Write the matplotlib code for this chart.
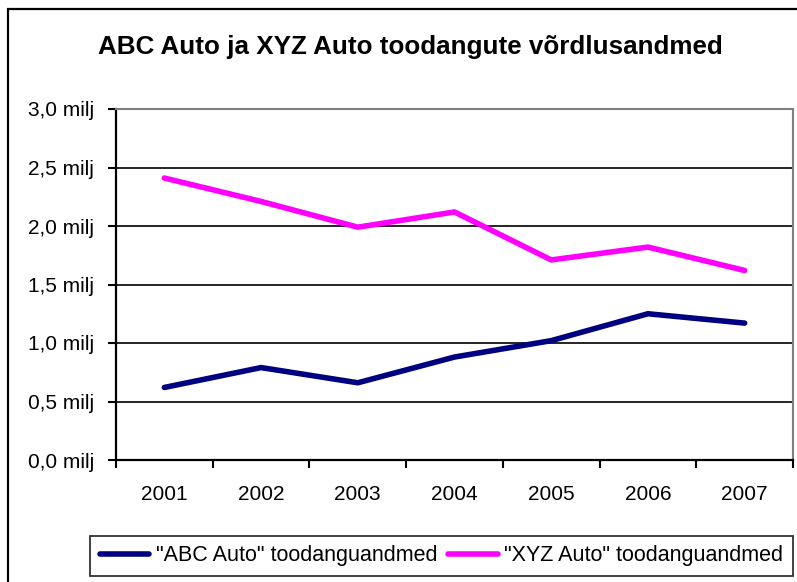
import matplotlib.pyplot as plt
from matplotlib.patches import Rectangle
import numpy as np

plt.rcParams['font.family'] = ['Liberation Sans', 'DejaVu Sans']

years = ["2001", "2002", "2003", "2004", "2005", "2006", "2007"]
abc = [0.62, 0.79, 0.66, 0.88, 1.02, 1.25, 1.17]
xyz = [2.41, 2.21, 1.99, 2.12, 1.71, 1.82, 1.62]
yticks = [0.0, 0.5, 1.0, 1.5, 2.0, 2.5, 3.0]
ylabels = ["0,0 milj", "0,5 milj", "1,0 milj", "1,5 milj", "2,0 milj", "2,5 milj", "3,0 milj"]

W, H = 797, 582
fig = plt.figure(figsize=(W / 100, H / 100), dpi=100)

# outer chart frame (runs off right/bottom edge like the original)
fig.patches.append(Rectangle((8 / W, -0.05), 1.1, 1 - 9 / H + 0.05, transform=fig.transFigure,
                             fill=False, edgecolor='black', linewidth=1.6))

ax = fig.add_axes([116 / W, 1 - 460 / H, (793 - 116) / W, (460 - 109) / H])

x = np.arange(len(years))
ax.plot(x, abc, color='#000080', linewidth=4, solid_capstyle='round', label='"ABC Auto" toodanguandmed')
ax.plot(x, xyz, color='#FF00FF', linewidth=4, solid_capstyle='round', label='"XYZ Auto" toodanguandmed')

fs = 15
ax.set_xlim(-0.5, len(years) - 0.5)
ax.set_ylim(0, 3.0)
ax.set_yticks(yticks)
ax.set_yticklabels(ylabels, fontsize=fs)
ax.set_xticks(np.arange(len(years) + 1) - 0.5)
ax.set_xticklabels([])
ax.set_xticks(x, minor=True)
ax.set_xticklabels(years, minor=True, fontsize=fs)
ax.tick_params(axis='x', which='minor', length=0, pad=18)
ax.tick_params(axis='x', which='major', direction='out', length=6, width=1.5)
ax.tick_params(axis='y', direction='out', length=6, width=1.5, pad=10)

for yv in yticks[1:]:
    ax.axhline(yv, color='black' if yv < 3.0 else '#808080', linewidth=1.2, zorder=0)

ax.spines['left'].set_linewidth(1.6)
ax.spines['bottom'].set_linewidth(1.6)
ax.spines['right'].set_color('#808080')
ax.spines['right'].set_linewidth(1.5)
ax.spines['top'].set_color('#808080')
ax.spines['top'].set_linewidth(1.5)

fig.text(410 / W, 1 - 47 / H, "ABC Auto ja XYZ Auto toodangute võrdlusandmed",
         ha='center', va='center', fontsize=18.7, fontweight='bold')

leg = fig.legend(loc='center', bbox_to_anchor=((88 + 795) / 2 / W, 1 - 556 / H), ncol=2,
                 fontsize=15.5, frameon=True, fancybox=False, edgecolor='black',
                 handlelength=2.3, handletextpad=0.3, columnspacing=0.5, borderpad=0.45,
                 borderaxespad=0)
leg.get_frame().set_linewidth(1.3)
for t in leg.get_texts():
    t.set_fontsize(15.5)

fig.savefig('out.png', dpi=100)
